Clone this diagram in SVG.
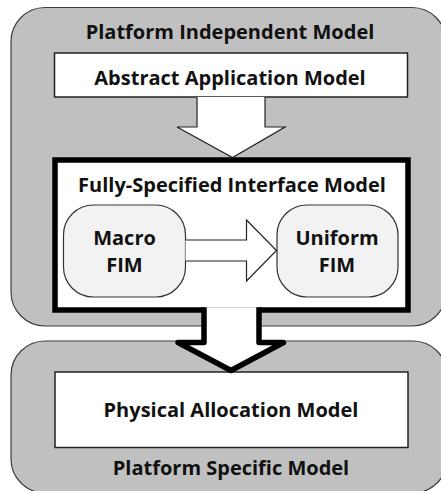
<svg xmlns="http://www.w3.org/2000/svg" width="441" height="491" viewBox="0 0 441 491">
<style>
.t{font-family:"Open Sans","Liberation Sans",sans-serif;font-weight:700;font-size:20px;fill:#111;text-anchor:middle}
.grey{fill:#c0c0c0;stroke:#3c3c3c;stroke-width:1.2}
.wbox{fill:#fff;stroke:#222;stroke-width:1.5}
.rnode{fill:#f2f2f2;stroke:#333;stroke-width:1.2}
.thin{fill:#fff;stroke:#222;stroke-width:1.2;stroke-linejoin:miter}
.thick{fill:#fff;stroke:#000;stroke-width:5.5}
</style>
<g id="pim">
<rect class="grey" x="11" y="7.5" width="435" height="318.5" rx="34" ry="34"/>
<text class="t" x="230" y="39">Platform Independent Model</text>
</g>
<g id="psm">
<rect class="grey" x="11" y="341" width="436" height="152" rx="34" ry="34"/>
<text class="t" x="231" y="475">Platform Specific Model</text>
</g>
<g id="aam">
<rect class="wbox" x="54.5" y="53" width="353" height="44"/>
<text class="t" x="230" y="85">Abstract Application Model</text>
</g>
<g id="fim">
<rect class="thick" x="55" y="160" width="353" height="150"/>
<text class="t" x="232" y="191.5">Fully-Specified Interface Model</text>
</g>
<g id="macro">
<rect class="rnode" x="63.5" y="205" width="122" height="92" rx="30" ry="30"/>
<text class="t" x="124.5" y="245">Macro</text>
<text class="t" x="124.5" y="272">FIM</text>
</g>
<g id="uniform">
<rect class="rnode" x="277" y="205" width="121" height="92" rx="30" ry="30"/>
<text class="t" x="337" y="245">Uniform</text>
<text class="t" x="337" y="272">FIM</text>
</g>
<g id="pam">
<rect class="wbox" x="55" y="372" width="353" height="75.5"/>
<text class="t" x="231" y="416.5">Physical Allocation Model</text>
</g>
<g id="connectors">
<path class="thin" d="M197,97 L197,127 L177,127 L232.5,157.5 L285,127 L265,127 L265,97"/>
<path class="thin" d="M185.5,240 L246.5,240 L246.5,220 L276.5,250.5 L246.5,281 L246.5,261 L185.5,261"/>
<path class="thick" stroke-linejoin="round" d="M204,307.3 L204,342.5 L178,342.5 L231,370.5 L283.5,342.5 L259,342.5 L259,307.3"/>
</g>
</svg>
